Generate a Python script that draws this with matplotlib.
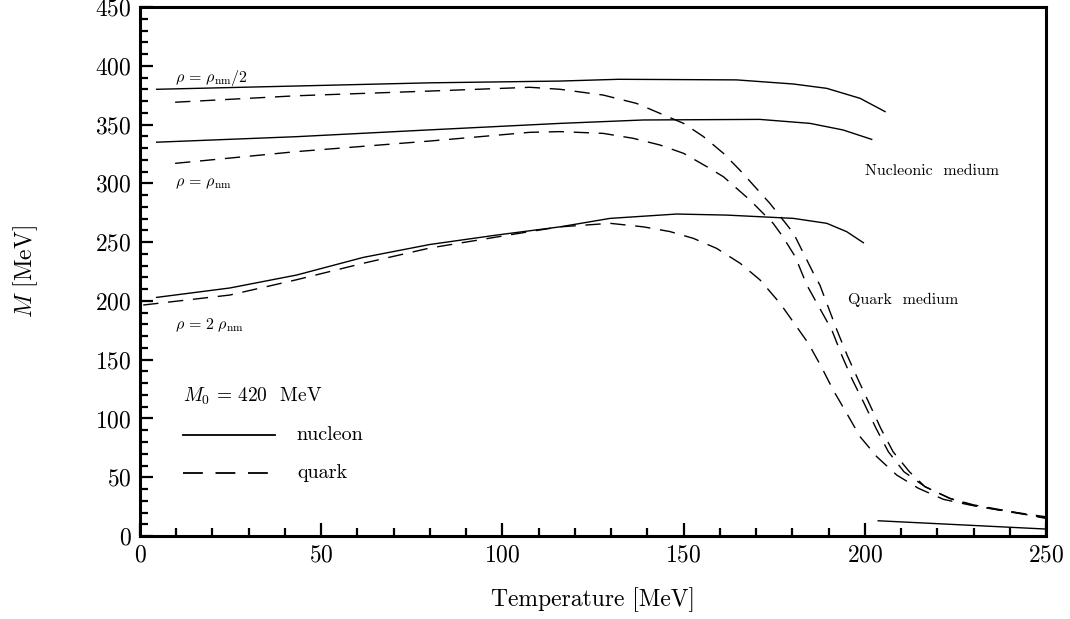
import numpy as np
import matplotlib
matplotlib.use("Agg")
import matplotlib.pyplot as plt
from matplotlib.ticker import MultipleLocator

plt.rcParams["font.family"] = "serif"
plt.rcParams["font.serif"] = ["cmr10", "DejaVu Serif"]
plt.rcParams["mathtext.fontset"] = "cm"
plt.rcParams["axes.formatter.use_mathtext"] = True

# nucleon masses (solid)
t_n_half = [4.6, 43.2, 80, 115.9, 132, 164.6, 180.3, 189.5, 198.7, 205.6]
m_n_half = [380, 382.8, 385.5, 387, 388.5, 388, 384.5, 380.8, 372.3, 361]

t_n_one = [4.6, 43.2, 80, 115.9, 138.9, 171, 184.9, 194, 201.9]
m_n_one = [335, 339.7, 345.5, 351, 353.9, 354.4, 351, 345.4, 337.4]

t_n_two = [4.6, 24.8, 43.2, 61.6, 80, 98.4, 115.9, 129.7, 148.1, 161.9, 180.3, 189.5, 195, 199.6]
m_n_two = [203, 211, 222, 237, 248, 256, 263, 270.2, 273.9, 273, 270.2, 266, 258.9, 249.5]

t_n_hot = [203.7, 223.5, 249.7]
m_n_hot = [13, 10, 6]

# quark masses (dashed)
t_q_half = [9.7, 43.2, 80, 107.6, 115.9, 127.8, 137, 143.5, 150, 155.5, 161, 165.6, 173.8,
            180.3, 185.8, 187.6, 192.3, 195.1, 198.2, 201.2, 204.4, 207.8, 212.3, 216.6,
            223.5, 230, 240, 250]
m_q_half = [369, 374.5, 378.5, 381.7, 380, 375.1, 368, 359.5, 351, 339.7, 325.5, 311, 283,
            257.7, 223.7, 213.5, 175.2, 154, 132.7, 112.9, 91.6, 71.7, 54.7, 42,
            32, 26.5, 21, 15]

t_q_one = [9.7, 43.2, 80, 107.6, 115.9, 127.8, 136.1, 143.5, 150, 156.4, 161, 168.3, 174.7,
           177.3, 180.8, 184, 190.9, 193.6, 196.6, 199.8, 203.1, 206.5, 210.8, 216.6,
           223.5, 230, 240, 250]
m_q_one = [317, 327, 336, 343.4, 344, 342.5, 338.3, 332.6, 325.5, 314.2, 305.6, 285.8, 266,
           255, 237.6, 213.5, 175.2, 154, 132.7, 112.9, 91.6, 71.7, 54.7, 42,
           32, 26, 20.5, 15.5]

t_q_two = [0.9, 24.8, 43.2, 61.6, 80, 107.6, 115.9, 129.7, 138.9, 146.2, 152.7, 159.1, 165.6,
           171.1, 176.6, 181.2, 184.4, 188, 191.3, 195, 198.7, 203.3, 208.8, 214.8, 221.7,
           229, 237.3, 249.7]
m_q_two = [196.5, 205, 218, 232, 245, 259, 263, 266, 263, 259, 253.2, 244.7, 232,
           217.8, 198, 178, 164, 144, 124, 104.4, 84.5, 67.5, 51.9, 40.6, 31.2,
           26.4, 22, 16.5]

fig = plt.figure(figsize=(10.7, 6.19), dpi=100)
ax = fig.add_axes([0.1308, 0.134, 0.8468, 0.8547])

lw = 1.0
dash = [11, 7]
for t, m in [(t_n_half, m_n_half), (t_n_one, m_n_one), (t_n_two, m_n_two), (t_n_hot, m_n_hot)]:
    ax.plot(t, m, color="black", lw=lw)
for t, m in [(t_q_half, m_q_half), (t_q_one, m_q_one), (t_q_two, m_q_two)]:
    ax.plot(t, m, color="black", lw=lw, dashes=dash)

ax.set_xlim(0, 250)
ax.set_ylim(0, 450)
ax.xaxis.set_major_locator(MultipleLocator(50))
ax.xaxis.set_minor_locator(MultipleLocator(10))
ax.yaxis.set_major_locator(MultipleLocator(50))
ax.yaxis.set_minor_locator(MultipleLocator(10))
ax.tick_params(which="both", direction="in", top=False, right=False, width=1.6, labelsize=17)
ax.tick_params(which="major", length=9.5, pad=6)
ax.tick_params(which="minor", length=5.5)
for s in ax.spines.values():
    s.set_linewidth(2.2)

ax.set_xlabel("Temperature [MeV]", fontsize=17, labelpad=15)
ax.set_ylabel(r"$M$ [MeV]", fontsize=17, labelpad=40)

small = 11.5
ax.text(9.7, 390, r"$\rho\,=\,\rho_{\rm nm}/2$", fontsize=small, va="center")
ax.text(9.7, 300, r"$\rho\,=\,\rho_{\rm nm}$", fontsize=small, va="center")
ax.text(9.7, 179.5, r"$\rho\,=\,2\;\rho_{\rm nm}$", fontsize=small, va="center")
ax.text(200, 310, "Nucleonic  medium", fontsize=small, va="center")
ax.text(195.4, 200.7, "Quark  medium", fontsize=small, va="center")

# legend drawn by hand
ax.text(11.9, 118.5, r"$M_0\,=\,420$  MeV", fontsize=14, va="center")
ax.plot([11.9, 37.3], [86, 86], color="black", lw=1.3)
ax.plot([11.9, 37.3], [53.6, 53.6], color="black", lw=1.3, dashes=[11, 7])
ax.text(43.3, 86, "nucleon", fontsize=14.5, va="center")
ax.text(43.3, 53.6, "quark", fontsize=14.5, va="center")

fig.savefig("out.png", dpi=100)
